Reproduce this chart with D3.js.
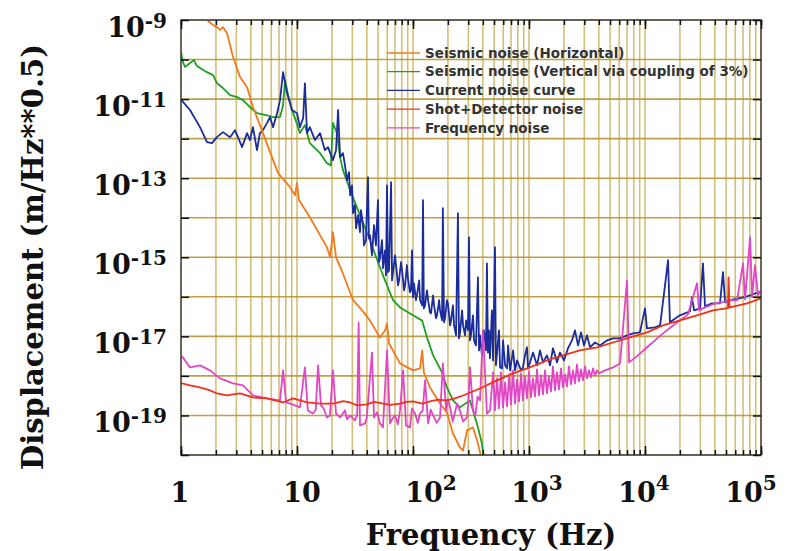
<!DOCTYPE html>
<html>
<head>
<meta charset="utf-8">
<script src="https://cdn.jsdelivr.net/npm/d3@7"></script>
<style>
  body { margin: 0; background: #fff; }
  svg { display: block; }
  .tick-label, .axis-title { font-family: "DejaVu Serif", serif; font-weight: bold; fill: #111; }
  .legend text { font-family: "DejaVu Sans", sans-serif; font-weight: bold; font-size: 13.5px; fill: #333; }
</style>
</head>
<body>
<svg id="chart"></svg>
<script>
// ---- data (frequency in Hz, displacement in m/Hz^0.5) ----
const seismicHorizontal = [
  [1.46,2.4e-9],[1.68,1.0e-9],[1.89,7.4e-10],[2.04,6.6e-10],[2.17,5.6e-10],[2.30,6.6e-10],[2.49,4.7e-10],
  [2.81,1.16e-10],[3.23,3.6e-11],[3.71,2.0e-11],[4.17,6.3e-12],[5.09,1.38e-12],[6.22,2.86e-13],[6.87,1.34e-13],
  [8.71,5.9e-14],[9.61,3.7e-14],[10.0,7.5e-14],[10.4,2.8e-14],[12.9,1.03e-14],[18.1,1.8e-15],[19.3,1.0e-15],
  [20.4,4.3e-15],[21.7,1.0e-15],[24.9,3.9e-16],[30.4,8.2e-17],[36.3,4.6e-17],[42.6,2.5e-17],[51.9,9.4e-18],
  [57.4,1.4e-17],[59.7,2.1e-17],[62.2,6.6e-18],[77.3,2.07e-18],[100,1.38e-18],[115,1.55e-18],[120,4.4e-18],
  [124,1.23e-18],[140,5.1e-19],[171,2.0e-19],[196,1.19e-19],[221,3.5e-20],[254,1.55e-20],[270,1.3e-20],
  [292,4.2e-20],[329,5.0e-20],[363,1.95e-20],[393,7.3e-21]
];

const seismicVertical = [
  [1.0,1.55e-10],[1.04,8.6e-11],[1.083,6.5e-11],[1.196,8.2e-11],[1.294,9.7e-11],[1.374,6.85e-11],[1.458,6.1e-11],
  [1.675,4.8e-11],[1.89,4.05e-11],[2.04,2.54e-11],[2.30,1.9e-11],[2.65,1.26e-11],[3.04,1.12e-11],[3.42,9.4e-12],
  [3.93,6.3e-12],[4.52,4.4e-12],[5.51,3.9e-12],[6.22,3.5e-12],[7.14,3.5e-12],[7.58,7.0e-12],[7.89,3.0e-11],
  [8.38,1.26e-11],[9.05,5.3e-12],[9.61,3.3e-12],[10.6,1.38e-12],[11.7,2.2e-12],[12.9,7.7e-13],[15.8,4.3e-13],
  [18.1,2.4e-13],[19.6,2.1e-13],[20.4,2.5e-12],[22.1,1.38e-12],[23.5,3.4e-13],[24.9,1.6e-13],[28.7,5.0e-14],
  [34.9,1.16e-14],[42.6,2.7e-15],[49.9,7.5e-16],[57.4,2.6e-16],[67.3,8.2e-17],[77.3,5.4e-17],[94.2,3.8e-17],
  [108,3.0e-17],[120,2.5e-17],[132,9.4e-18],[149,3.3e-18],[178,1.23e-18],[196,5.1e-19],[221,2.4e-19],
  [254,1.6e-19],[310,2.4e-19],[329,1.34e-19],[363,5.0e-20],[393,1.95e-20],[409,7.3e-21]
];

const currentNoise = [
  [1.0,9.7e-12],[1.196,5.3e-12],[1.458,1.95e-12],[1.675,8.2e-13],[1.85,7.7e-13],[2.04,1.09e-12],[2.30,1.46e-12],
  [2.65,1.09e-12],[2.92,1.64e-12],[3.10,1.09e-12],[3.36,6.1e-13],[3.71,1.38e-12],[3.93,9.2e-13],[4.17,1.95e-12],
  [4.52,5.1e-13],[4.79,1.38e-12],[5.09,1.64e-12],[5.51,2.47e-12],[5.85,3.5e-12],[6.22,1.95e-12],[6.73,4.4e-12],
  [7.14,9.4e-12],[7.58,4.8e-11],[8.21,1.42e-11],[9.05,5.3e-12],[10.0,4.4e-12],[10.6,1.95e-12],[11.3,3.3e-12],
  [11.7,2.5e-11],[12.2,1.38e-12],[12.9,1.95e-12],[14.3,9.2e-13],[15.8,1.38e-12],[17.4,5.1e-13],[18.5,6.1e-13],
  [20.4,2.86e-13],[21.7,5.1e-13],[22.6,5.3e-12],[23.5,3.4e-13],[24.9,4.3e-13],
  [25.9,2.13e-13],[27.0,8.9e-14],[28.1,1.42e-13],[28.7,3.7e-14],[29.8,6.6e-14],[30.4,1.3e-14],[31.6,2.07e-14],
  [32.3,5.4e-15],[33.6,1.16e-14],[34.9,4.3e-15],[35.6,1.55e-14],[37.1,6.5e-15],[37.8,2.0e-15],[39.3,2.7e-15],
  [40.9,1.06e-13],[41.7,3.0e-15],[42.6,3.6e-15],[44.3,1.12e-15],[46.1,6.5e-15],[47.9,2.0e-15],[49.9,2.8e-14],
  [50.9,7.5e-16],[51.9,9.4e-16],[54.1,2.7e-15],[55.1,5.3e-16],[57.4,1.5e-15],[58.5,3.5e-16],[59.7,6.6e-14],
  [60.9,4.2e-16],[62.2,4.7e-16],[64.7,7.9e-14],[66.0,2.6e-16],[67.3,4.2e-16],[70.0,1.12e-15],[71.4,6.3e-16],
  [74.3,1.95e-16],[75.8,2.6e-16],[78.9,7.5e-16],[80.5,4.7e-16],[83.8,1.46e-16],[85.4,1.95e-16],[88.7,6.3e-16],
  [90.5,2.9e-16],[94.2,1.3e-16],[96.1,1.46e-16],[98.0,1.5e-15],[100,9.7e-17],[102,2.2e-16],[106,8.2e-17],
  [108,1.09e-16],[113,2.6e-16],[115,8.2e-17],[120,6.1e-17],[122,2.8e-14],[124,5.1e-17],[127,6.1e-17],
  [132,1.46e-16],[135,8.2e-17],[140,4.05e-17],[143,3.8e-17],[149,1.09e-16],[152,6.1e-17],[158,2.86e-17],
  [161,3.4e-17],[168,8.2e-17],[171,4.55e-17],[178,2.54e-17],[181,1.74e-14],[185,2.26e-17],[189,2.86e-17],
  [196,8.2e-17],[200,6.85e-17],[209,1.9e-17],[213,2.54e-17],[221,6.1e-17],[226,1.9e-17],[235,1.06e-17],
  [244,1.3e-14],[249,8.9e-18],[254,1.19e-17],[265,4.55e-17],[270,1.9e-17],[281,1.06e-17],[287,2.54e-17],
  [298,1.42e-17],[304,3.2e-15],[310,7.9e-18],[316,1.06e-17],[329,3.4e-17],[336,7.9e-18],[349,5.9e-18],
  [363,3.1e-16],[371,4.4e-18],[378,1.06e-17],[393,3.3e-18],[409,1.42e-17],[426,4.4e-18],[434,7.0e-16],
  [443,3.9e-18],[452,1.42e-17],[461,2.8e-18],[479,4.55e-17],[490,2.47e-18],[509,1.8e-15],[519,1.85e-18],
  [551,1.42e-17],[563,1.64e-18],[585,1.55e-18],[597,7.9e-18],[622,1.85e-18],[647,1.55e-18],[660,5.9e-18],
  [687,1.38e-18],[729,4.4e-18],[758,1.38e-18],[789,2.47e-18],[854,1.38e-18],[887,1.64e-18],[923,3.3e-18],
  [961,5.3e-18],[980,1.55e-18],[1020,2.2e-18],[1083,3.9e-18],[1172,1.85e-18],[1244,4.4e-18],[1321,2.2e-18],
  [1429,3.3e-18],[1517,1.85e-18],[1610,5.0e-18],[1743,2.2e-18],[1850,3.9e-18],[2003,2.47e-18],[2169,5.0e-18],
  [2348,7.9e-18],[2492,1.42e-17],[2646,5.9e-18],[2809,1.26e-17],[2981,5.9e-18],[3160,1.06e-17],[3360,5.3e-18],
  [3710,7.0e-18],[4090,5.9e-18],[4700,7.9e-18],[5300,8.9e-18],[6090,8.9e-18],[7000,1.06e-17],[7890,1.19e-17],
  [9050,1.26e-17],[10000,5.1e-17],[10400,1.6e-17],[12200,1.69e-17],[13500,1.9e-17],[15800,8.4e-16],
  [16400,2.26e-17],[20000,3.4e-17],[24400,4.3e-17],[25400,9.7e-17],[26500,4.55e-17],[29800,5.1e-17],
  [31600,7.0e-16],[32900,5.75e-17],[37800,6.85e-17],[44300,6.85e-17],[47000,4.2e-16],[49000,7.3e-17],
  [57400,8.65e-17],[66000,9.2e-17],[75800,1.03e-16],[85400,1.16e-16],[100000,1.38e-16]
];

const shotDetector = [
  [1.0,6.6e-19],[1.196,5.75e-19],[1.458,5.1e-19],[1.778,4.3e-19],[2.04,3.6e-19],[2.49,3.2e-19],[2.81,3.4e-19],
  [3.23,3.6e-19],[4.17,2.86e-19],[5.51,2.7e-19],[7.58,2.13e-19],[9.23,2.7e-19],[12.2,2.13e-19],[15.8,2.0e-19],
  [20.4,2.0e-19],[25,2.3e-19],[28.7,2.13e-19],[33,1.8e-19],[40.1,1.9e-19],[46,2.2e-19],[55.1,2.0e-19],
  [64,1.85e-19],[77.3,2.0e-19],[88,2.2e-19],[100,2.26e-19],[120,2.0e-19],[140,2.26e-19],[165,2.5e-19],
  [196,2.4e-19],[230,2.7e-19],[270,3.2e-19],[378,4.8e-19],[530,7.7e-19],[729,1.16e-18],[1020,1.64e-18],
  [1430,2.47e-18],[1960,3.3e-18],[2750,4.4e-18],[3860,5.3e-18],[5300,7.0e-18],[7430,9.4e-18],[10400,1.26e-17],
  [14300,1.9e-17],[20000,2.54e-17],[28100,3.4e-17],[38600,4.55e-17],[51900,5.2e-17],[52500,3.1e-16],
  [53500,5.3e-17],[54100,5.4e-17],[75800,6.85e-17],[100000,9.2e-17]
];

const frequencyNoise = [
  [1.0,3.2e-18],[1.04,2.9e-18],[1.196,1.64e-18],[1.458,1.85e-18],[1.778,1.38e-18],[2.17,8.65e-19],[2.81,6.5e-19],
  [3.42,5.75e-19],[4.17,3.2e-19],[5.51,2.7e-19],[7.14,2.4e-19],[7.58,1.38e-18],[8.05,2.13e-19],[8.71,2.0e-19],
  [9.6,1.8e-19],[10.6,1.6e-19],[11.7,1.64e-18],[12.4,1.34e-19],[13.7,1.12e-19],[14.5,1.4e-19],[15.2,1.85e-18],
  [16.1,1.8e-19],[17,1.5e-19],[18.1,8.9e-20],[19.2,1.0e-19],[20.4,1.38e-18],[21.7,1.12e-19],[23.5,8.9e-20],
  [25.9,1.34e-19],[27,8.0e-20],[28.7,1.0e-19],[31.6,7.5e-20],[33,1.0e-19],[34.0,2.2e-17],[34.9,5.6e-20],
  [38.6,6.3e-20],[40,9.0e-20],[44.3,3.9e-18],[46.1,8.9e-20],[49,1.2e-19],[51.9,6.3e-20],[55.1,5.0e-20],
  [59.7,4.4e-18],[63.4,6.3e-20],[66,8.0e-20],[70.0,1.0e-19],[74,6.0e-20],[77.3,1.34e-19],[82.1,1.38e-18],
  [87.1,5.6e-20],[94.2,5.0e-20],[98,1.5e-19],[104,1.12e-19],[110,6.5e-20],[115,1.12e-19],[121,1.3e-19],
  [127,7.7e-19],[135,6.3e-20],[142,1.4e-19],[149,1.0e-19],[160,6.5e-20],[171,8.9e-20],[181,2.07e-18],
  [193,1.34e-19],[200,2.6e-19],[209,1.6e-19],[220,7.0e-20],[230,1.19e-19],[240,2.0e-19],[254,1.34e-19],
  [270,7.0e-20],[292,8.9e-20],[300,2.0e-19],[310,1.64e-18],[329,1.34e-19],[345,1.0e-19],[360,3.0e-19],
  [378,2.4e-19],[401,1.42e-17],[434,1.12e-19],[461,1.34e-19],
  [490,1.23e-18],[509,1.34e-19],[530,8.65e-19],[551,1.5e-19],[574,1.23e-18],[597,1.6e-19],[622,6.85e-19],
  [647,1.69e-19],[674,1.09e-18],[700,1.9e-19],[729,1.38e-18],[758,2.0e-19],[789,8.2e-19],[821,2.26e-19],
  [854,1.16e-18],[887,2.4e-19],[923,9.7e-19],[961,2.7e-19],[1000,1.3e-18],[1040,2.86e-19],[1083,8.65e-19],
  [1126,3.0e-19],[1172,1.46e-18],[1219,3.2e-19],[1269,1.03e-18],[1321,3.4e-19],[1374,1.38e-18],[1429,3.6e-19],
  [1487,9.7e-19],[1547,4.05e-19],[1610,1.74e-18],[1675,4.3e-19],[1743,1.23e-18],[1814,4.55e-19],[1888,1.55e-18],
  [1964,5.1e-19],[2043,1.09e-18],[2127,5.4e-19],[2212,1.74e-18],[2302,6.1e-19],[2395,1.38e-18],[2492,6.5e-19],
  [2594,1.95e-18],[2699,7.3e-19],[2809,1.46e-18],[2923,7.7e-19],[3040,1.74e-18],[3160,8.65e-19],[3290,1.38e-18],
  [3420,9.2e-19],[3560,1.55e-18],[3710,1.03e-18],[3860,1.38e-18],[4010,1.16e-18],
  [4520,1.38e-18],[5300,1.64e-18],[6090,2.07e-18],[7000,2.6e-16],[7290,2.2e-18],[8710,3.3e-18],
  [10400,5.3e-18],[12200,7.9e-18],[14300,1.19e-17],[17100,1.8e-17],[20000,2.54e-17],[23500,3.6e-17],
  [28100,2.2e-16],[29200,4.55e-17],[32900,5.4e-17],[38600,6.5e-17],[46100,7.3e-17],[54100,8.2e-17],
  [62200,8.2e-17],[70000,7.0e-16],[72900,8.65e-17],[80500,3.2e-15],[83800,1.0e-16],[88700,6.3e-16],
  [94200,1.09e-16],[100000,1.46e-16]
];

const seriesNames = [
  "Seismic noise (Horizontal)",
  "Seismic noise (Vertical via coupling of 3%)",
  "Current noise curve",
  "Shot+Detector noise",
  "Frequency noise"
];
const seriesColors = ["#f07a1c", "#1f9e23", "#1b2d9c", "#f0321a", "#e046c6"];
const seriesData = [seismicHorizontal, seismicVertical, currentNoise, shotDetector, frequencyNoise];

const xTickValues = [1, 10, 1e2, 1e3, 1e4, 1e5];
const xTickBase = ["1", "10", "10", "10", "10", "10"];
const xTickExp = ["", "", "2", "3", "4", "5"];
const yTickValues = [1e-9, 1e-11, 1e-13, 1e-15, 1e-17, 1e-19];
const yTickExp = ["-9", "-11", "-13", "-15", "-17", "-19"];

// ---- layout ----
const margin = {top: 20, right: 31, bottom: 96, left: 181};
const width = 580, height = 435;
const xLabelShift = [-1, 5, 18, 8, -1, -10];

const svg = d3.select('#chart').attr('width', 792).attr('height', 551);
const chart = svg.append('g').attr('transform', `translate(${margin.left},${margin.top})`);

const x = d3.scaleLog().domain([1, 1e5]).range([0, width]);
const y = d3.scaleLog().domain([1e-20, 1e-9]).range([height, 0]);

// grid
const xMinor = x.ticks();
const yDecades = d3.range(-20, -8).map(e => Math.pow(10, e));

chart.append('g').selectAll('line')
  .data(xMinor)
  .join('line')
    .attr('x1', d => x(d)).attr('x2', d => x(d))
    .attr('y1', 0).attr('y2', height)
    .attr('stroke', '#cdb463').attr('stroke-width', 1.6).attr('opacity', 0.85);

chart.append('g').selectAll('line')
  .data(yDecades)
  .join('line')
    .attr('x1', 0).attr('x2', width)
    .attr('y1', d => y(d)).attr('y2', d => y(d))
    .attr('stroke', '#b99637').attr('stroke-width', 1.6).attr('opacity', 0.9);

// curves
chart.append('clipPath').attr('id', 'plot-clip')
  .append('rect').attr('width', width).attr('height', height);

const line = d3.line().x(d => x(d[0])).y(d => y(d[1]));
const drawOrder = [1, 2, 0, 4, 3];

chart.append('g').attr('clip-path', 'url(#plot-clip)')
  .selectAll('path')
  .data(drawOrder)
  .join('path')
    .attr('d', i => line(seriesData[i]))
    .attr('fill', 'none')
    .attr('stroke', i => seriesColors[i])
    .attr('stroke-width', 1.8)
    .attr('stroke-linejoin', 'round');

// frame + ticks
chart.append('rect')
  .attr('width', width).attr('height', height)
  .attr('fill', 'none').attr('stroke', '#444').attr('stroke-width', 1.5);

const tickStyle = g => {
  g.select('.domain').remove();
  g.selectAll('.tick line').attr('stroke', '#111').attr('stroke-width', 1.5);
  g.selectAll('.tick text').remove();
};

chart.append('g').attr('transform', `translate(0,${height})`)
  .call(d3.axisBottom(x).tickValues(xMinor).tickSize(-5)).call(tickStyle);
chart.append('g').attr('transform', `translate(0,${height})`)
  .call(d3.axisBottom(x).tickValues(xTickValues).tickSize(-9)).call(tickStyle);
chart.append('g')
  .call(d3.axisTop(x).tickValues(xMinor).tickSize(-5)).call(tickStyle);
chart.append('g')
  .call(d3.axisTop(x).tickValues(xTickValues).tickSize(-9)).call(tickStyle);
chart.append('g')
  .call(d3.axisLeft(y).tickValues(yDecades).tickSize(-8)).call(tickStyle);
chart.append('g').attr('transform', `translate(${width},0)`)
  .call(d3.axisRight(y).tickValues(yDecades).tickSize(-8)).call(tickStyle);

// tick labels
const xLabels = chart.append('g').selectAll('text')
  .data(xTickValues)
  .join('text')
    .attr('class', 'tick-label')
    .attr('text-anchor', 'middle')
    .attr('x', (d, i) => x(d) + xLabelShift[i])
    .attr('y', height + 47)
    .style('font-size', '27px');
xLabels.append('tspan').text((d, i) => xTickBase[i]);
xLabels.append('tspan')
  .attr('dy', -12)
  .style('font-size', '20px')
  .text((d, i) => xTickExp[i]);

const yLabels = chart.append('g').selectAll('text')
  .data(yTickValues)
  .join('text')
    .attr('class', 'tick-label')
    .attr('text-anchor', 'end')
    .attr('x', -14)
    .attr('y', d => y(d) + 17)
    .style('font-size', '27px');
yLabels.append('tspan').text('10');
yLabels.append('tspan')
  .attr('dy', -9)
  .style('font-size', '20px')
  .text((d, i) => yTickExp[i]);

// axis titles
svg.append('text')
  .attr('class', 'axis-title')
  .attr('text-anchor', 'middle')
  .attr('x', 491).attr('y', 545)
  .style('font-size', '29px')
  .text('Frequency (Hz)');

svg.append('text')
  .attr('class', 'axis-title')
  .attr('text-anchor', 'middle')
  .attr('transform', 'translate(43,257) rotate(-90)')
  .style('font-size', '29px')
  .text('Displacement (m/Hz**0.5)');

// legend
const legend = svg.append('g').attr('class', 'legend')
  .attr('transform', 'translate(387,53)');
const rows = legend.selectAll('g')
  .data(seriesNames)
  .join('g')
    .attr('transform', (d, i) => `translate(0,${i * 18.7})`);
rows.append('line')
  .attr('x1', 0).attr('x2', 33)
  .attr('stroke', (d, i) => seriesColors[i])
  .attr('stroke-width', 1.3);
rows.append('text')
  .attr('x', 38).attr('dy', '0.35em')
  .text(d => d);
</script>
</body>
</html>
